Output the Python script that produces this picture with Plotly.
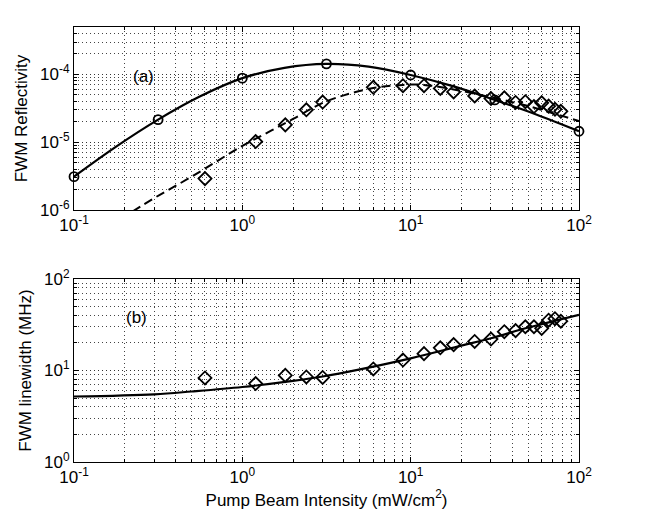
import plotly.graph_objects as go
from plotly.subplots import make_subplots

# ---- data (a): FWM reflectivity ----
fit_a_x = [0.1, 0.178, 0.316, 0.562, 1.0, 1.78, 3.16, 5.62, 10.0, 17.8, 31.6, 56.2, 100.0]
fit_a_y = [3.1e-6, 8.6e-6, 2.15e-5, 4.75e-5, 8.8e-5, 1.25e-4, 1.43e-4, 1.3e-4, 9.8e-5, 6.7e-5, 4.2e-5, 2.54e-5, 1.45e-5]

circ_x = [0.1, 0.316, 1.0, 3.16, 10.0, 31.6, 100.0]
circ_y = [3.1e-6, 2.15e-5, 8.8e-5, 1.43e-4, 9.8e-5, 4.2e-5, 1.45e-5]

dash_x = [0.1, 0.2, 0.3, 0.5, 1.0, 1.5, 2.0, 3.0, 4.0, 6.0, 9.0, 12.0, 20.0, 30.0, 50.0, 100.0]
dash_y = [2.6e-7, 8e-7, 1.5e-6, 3.1e-6, 8.8e-6, 1.5e-5, 2.2e-5, 3.8e-5, 4.9e-5, 6.3e-5, 7.0e-5, 7.0e-5, 5.7e-5, 4.6e-5, 3.4e-5, 2.05e-5]

meas_x = [0.6, 1.2, 1.8, 2.4, 3.0, 6, 9, 12, 15, 18, 24, 30, 36, 42, 48, 54, 60, 66, 72, 78]
refl_y = [2.9e-6, 1.02e-5, 1.8e-5, 3.0e-5, 3.9e-5, 6.45e-5, 6.8e-5, 6.8e-5, 6.2e-5, 5.5e-5,
          4.8e-5, 4.4e-5, 4.5e-5, 3.85e-5, 3.95e-5, 3.35e-5, 3.8e-5, 3.4e-5, 3.05e-5, 2.85e-5]

# ---- data (b): FWM linewidth ----
lw_y = [8.3, 7.2, 8.85, 8.5, 8.4, 10.4, 13.0, 15.3, 17.7, 19.2,
        20.8, 22.1, 26.6, 27.3, 30.1, 30.1, 28.9, 35.5, 36.9, 34.6]
fit_b_x = [0.1, 0.3, 0.5, 1.0, 2.0, 3.0, 5.0, 10.0, 20.0, 30.0, 50.0, 100.0]
fit_b_y = [5.2, 5.5, 5.9, 6.6, 7.7, 8.6, 10.3, 13.6, 18.7, 22.5, 29.5, 40.7]

x_ticks = [0.1, 1, 10, 100]
x_tick_text = ["10<sup>-1</sup>", "10<sup>0</sup>", "10<sup>1</sup>", "10<sup>2</sup>"]
ya_ticks = [1e-6, 1e-5, 1e-4]
ya_tick_text = ["10<sup>-6</sup>", "10<sup>-5</sup>", "10<sup>-4</sup>"]
yb_ticks = [1, 10, 100]
yb_tick_text = ["10<sup>0</sup>", "10<sup>1</sup>", "10<sup>2</sup>"]

W, H = 649, 516
ml, mr, mt, mb = 66, 78, 7, 62
ph = H - mt - mb

fig = make_subplots(rows=2, cols=1)

fig.add_trace(go.Scatter(x=fit_a_x, y=fit_a_y, mode="lines", line=dict(color="black", width=2.2, shape="spline"),
                         showlegend=False), row=1, col=1)
fig.add_trace(go.Scatter(x=circ_x, y=circ_y, mode="markers",
                         marker=dict(symbol="circle-open", size=9, color="black", line=dict(width=1.8)),
                         showlegend=False, cliponaxis=False), row=1, col=1)
fig.add_trace(go.Scatter(x=dash_x, y=dash_y, mode="lines",
                         line=dict(color="black", width=2, dash="9px,5px", shape="spline"),
                         showlegend=False), row=1, col=1)
fig.add_trace(go.Scatter(x=meas_x, y=refl_y, mode="markers",
                         marker=dict(symbol="diamond-open", size=10, color="black", line=dict(width=1.8)),
                         showlegend=False), row=1, col=1)

fig.add_trace(go.Scatter(x=fit_b_x, y=fit_b_y, mode="lines", line=dict(color="black", width=2.2, shape="spline"),
                         showlegend=False), row=2, col=1)
fig.add_trace(go.Scatter(x=meas_x, y=lw_y, mode="markers",
                         marker=dict(symbol="diamond-open", size=10, color="black", line=dict(width=1.8)),
                         showlegend=False), row=2, col=1)

fam = "Liberation Sans, Arial, sans-serif"
title_font = dict(family=fam, size=17, color="black")
tick_font = dict(family=fam, size=17, color="black")
common = dict(type="log", showline=True, linecolor="black", linewidth=1, mirror="allticks",
              ticks="inside", ticklen=5, tickcolor="black",
              showgrid=True, gridcolor="#333", griddash="1px,3px", gridwidth=1,
              zeroline=False, tickfont=tick_font,
              minor=dict(ticks="inside", ticklen=3, tickcolor="black", dtick="D1",
                         showgrid=True, gridcolor="#444", griddash="1px,3px", gridwidth=1))

fig.update_xaxes(range=[-1, 2], tickvals=x_ticks, ticktext=x_tick_text, **common)
fig.update_xaxes(row=2, col=1, title=dict(text="Pump Beam Intensity (mW/cm<sup>2</sup>)", font=title_font, standoff=4))
fig.update_yaxes(row=1, col=1, range=[-6, -3.30103], tickvals=ya_ticks, ticktext=ya_tick_text,
                 title=dict(text="FWM Reflectivity", font=title_font, standoff=8), **common)
fig.update_yaxes(row=2, col=1, range=[0, 2], tickvals=yb_ticks, ticktext=yb_tick_text,
                 title=dict(text="FWM linewidth (MHz)", font=title_font, standoff=8), **common)

fig.update_layout(
    width=W, height=H, margin=dict(l=ml, r=mr, t=mt, b=mb),
    plot_bgcolor="white", paper_bgcolor="white", font=title_font,
    xaxis=dict(domain=[0, 1]), xaxis2=dict(domain=[0, 1]),
    yaxis=dict(domain=[(454 - 195) / ph, 1.0]),
    yaxis2=dict(domain=[0, (454 - 266) / ph]),
    annotations=[
        dict(text="(a)", x=-0.59, y=-4.03, xref="x", yref="y", showarrow=False,
             font=dict(family=fam, size=17, color="black")),
        dict(text="(b)", x=-0.63, y=1.585, xref="x2", yref="y2", showarrow=False,
             font=dict(family=fam, size=17, color="black")),
    ],
)

fig.write_html("out.html")
